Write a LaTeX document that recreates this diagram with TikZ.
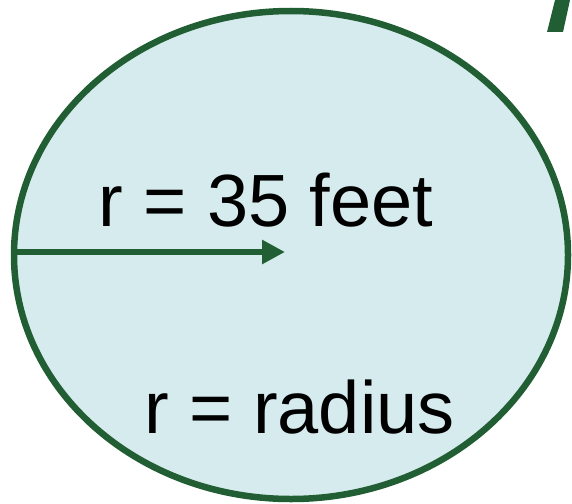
\documentclass[tikz,border=0pt]{standalone}
\usepackage{fontspec}
\setmainfont{Liberation Sans}
\usetikzlibrary{arrows.meta,shapes.geometric}
\definecolor{poolgreen}{RGB}{33,94,51}
\definecolor{poolblue}{RGB}{214,235,238}
\tikzset{
    radius diagram/.style = {x=1pt, y=1pt},
    pool/.style           = {ellipse, draw=poolgreen, fill=poolblue,
                             line width=6.5pt, inner sep=0pt},
    radius line/.style    = {draw=poolgreen, line width=6.5pt,
                             -{Triangle[length=23pt, width=23pt]}},
    big label/.style      = {inner sep=0pt, anchor=base west,
                             font=\fontsize{74pt}{80pt}\selectfont}
}
\begin{document}
\begin{tikzpicture}[radius diagram]
\useasboundingbox (0,0) rectangle (572,-503);

% ================= Circle =================
\node[pool, minimum width=554pt, minimum height=488pt] (pool) at (291,-255) {};

% ================= Radius =================
\coordinate (tip) at (285,-252);
\draw[radius line] (pool.west |- tip) -- (tip);

% ================= Labels =================
\node[big label] (rvalue) at (98,-226) {r = 35 feet};
\node[big label] (rname) at (144,-433) {r = radius};

% ================= Letter fragment (top right) =================
\fill[poolgreen] (555,0) -- (570,0) -- (563,-32) -- (547,-32) -- cycle;

\end{tikzpicture}
\end{document}
